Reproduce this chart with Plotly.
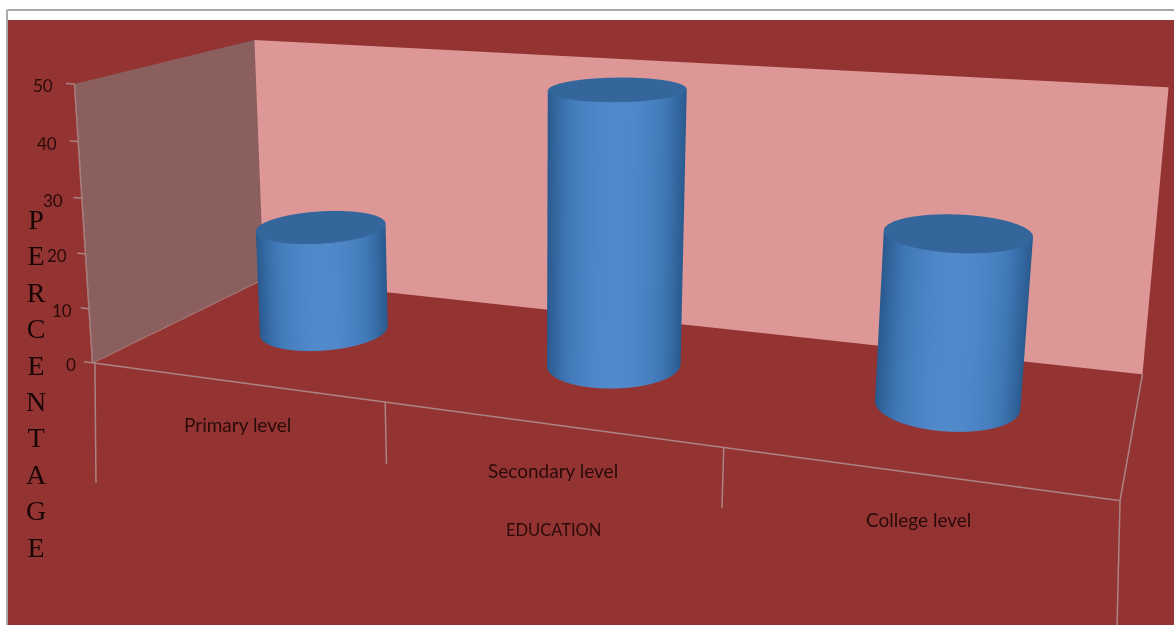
import numpy as np
import plotly.graph_objects as go

categories = ["Primary level", "Secondary level", "College level"]
percentages = [20, 49, 29]
z_ticks = [0, 10, 20, 30, 40, 50]
y_title = "PERCENTAGE"
x_title = "EDUCATION"

# Camera and box proportions of the 3D view
EYE = np.array([0.2006, -1.2321, 0.9878])
CENTER = np.array([-0.0594, 0.0555, 0.0977])
UP = np.array([-0.1062, 0.5508, 0.8278])
BOX_X, BOX_Y, BOX_Z = 2.0, 0.3814, 0.5124
SHEAR_XY, SHEAR_XZ, SHEAR_YZ = 0.2609, -0.0688, 0.6983

XR, YR, ZR = [-2, 5], [-2, 3], [-80, 80]
BG, LINE = "#933432", "#AD8382"
FLAT = dict(ambient=1, diffuse=0, specular=0, roughness=1, fresnel=0)

# Columns sit a little off the exact category middle, towards the back of the floor
COLUMN_NUDGE = [0.003, -0.001, -0.001]
COLUMN_DEPTH = 0.54
RX, RY = 0.2, 0.22


def lean(x, y, z):
    """Oblique slant of the plotting box: heights stay as they are, only x and y shift."""
    x, y, z = np.asarray(x, float), np.asarray(y, float), np.asarray(z, float)
    return x + SHEAR_XY * (y - 0.5) + SHEAR_XZ * z / 50, y + SHEAR_YZ * z / 50, z


def view_x(lx, ly, lz):
    """Horizontal position of a point as the camera sees it, used for the side shading."""
    w = np.stack([BOX_X * (lx - 1.5) / 3, BOX_Y * (ly - 0.5), BOX_Z * lz / 50], axis=-1)
    f = (CENTER - EYE) / np.linalg.norm(CENTER - EYE)
    r = np.cross(f, UP)
    r = r / np.linalg.norm(r)
    rel = w - EYE
    return (rel @ r) / (rel @ f)


fig = go.Figure()


def flat_surface(x, y, z, color):
    lx, ly, lz = lean(x, y, z)
    fig.add_surface(x=lx, y=ly, z=lz, surfacecolor=np.zeros_like(lz), cmin=0, cmax=1,
                    colorscale=[[0, color], [1, color]], showscale=False,
                    lighting=FLAT, hoverinfo="skip")


# Back wall and side wall
U, V = np.meshgrid([0.0, 3.0], [0.0, 50.0])
flat_surface(U, np.ones_like(U), V, "#DE9797")
U, V = np.meshgrid([0.0, 1.0], [0.0, 50.0])
flat_surface(np.zeros_like(U), U, V, "#8B5F5D")

# One cylinder per category, its height taken from the percentage
SIDE = [[0, "#2A5A8E"], [0.5, "#3F77B6"], [1, "#5289CB"]]
theta = np.linspace(0, 2 * np.pi, 181)
for i, v in enumerate(percentages):
    xc = i + 0.5 + COLUMN_NUDGE[i]
    T, Z = np.meshgrid(theta, [0.0, float(v)])
    X = xc + RX * np.cos(T)
    Y = COLUMN_DEPTH + RY * np.sin(T)
    lx, ly, lz = lean(X, Y, Z)
    sx = view_x(lx, ly, lz)
    lo, hi = sx.min(axis=1, keepdims=True), sx.max(axis=1, keepdims=True)
    shade = 1 - (2 * (sx - lo) / (hi - lo) - 1) ** 2
    fig.add_surface(x=lx, y=ly, z=lz, surfacecolor=shade, cmin=0, cmax=1, colorscale=SIDE,
                    showscale=False, lighting=FLAT, hoverinfo="skip")
    R, T2 = np.meshgrid([0.0, 1.0], theta)
    flat_surface(xc + RX * R * np.cos(T2), COLUMN_DEPTH + RY * R * np.sin(T2),
                 np.full_like(R, float(v)), "#34669C")


def seg(x0, y0, z0, x1, y1, z1):
    lx, ly, lz = lean([x0, x1], [y0, y1], [z0, z1])
    fig.add_scatter3d(x=lx, y=ly, z=lz, mode="lines", line=dict(color=LINE, width=3),
                      hoverinfo="skip", showlegend=False)


# Floor edges, height edge, tick marks and category separators
seg(0, 0, 0, 3, 0, 0)
seg(0, 0, 0, 0, 1, 0)
seg(3, 0, 0, 3, 1, 0)
seg(0, 0, 0, 0, 0, 50)
for t in z_ticks:
    seg(0, 0, t, -0.03, 0, t)
seg(0.009, 0, 0, -0.016, 0, -23)
seg(1, 0, 0, 1, 0, -11)
seg(2, 0, 0, 2, 0, -10)
seg(3, 0, 0, 3.05, 0, -50)

INK = "#2B0A0A"
LABEL = dict(family="Lato", size=19, color=INK)
anns = []
tick_shift = [-21, -27, -28, -29, -31, -31]
for t, dx in zip(z_ticks, tick_shift):
    lx, ly, lz = lean(0, 0, t)
    anns.append(dict(x=float(lx), y=float(ly), z=float(lz), text=str(t), showarrow=False,
                     xshift=dx, yshift=-2, font=dict(family="Lato", size=17, color=INK)))
label_shift = [(2, 1), (5, 0), (8, 4)]
for i, name in enumerate(categories):
    lx, ly, lz = lean(i + 0.5, 0, -8)
    anns.append(dict(x=float(lx), y=float(ly), z=float(lz), text=name, showarrow=False,
                     xshift=label_shift[i][0], yshift=label_shift[i][1], font=LABEL))
lx, ly, lz = lean(1.5, 0, -18.2)
anns.append(dict(x=float(lx), y=float(ly), z=float(lz), text=x_title, showarrow=False, xshift=6,
                 font=dict(family="Lato", size=16.5, color=INK)))

axis = dict(visible=False, showspikes=False)
fig.update_layout(
    width=1174, height=625, margin=dict(l=0, r=0, t=0, b=0), paper_bgcolor="white", showlegend=False,
    shapes=[
        dict(type="rect", xref="paper", yref="paper", x0=7 / 1174, x1=1, y0=0, y1=1 - 20 / 625,
             fillcolor=BG, line_width=0, layer="below"),
        dict(type="line", xref="paper", yref="paper", x0=7 / 1174, x1=1, y0=1 - 10 / 625, y1=1 - 10 / 625,
             line=dict(color="#A9A9A9", width=2), layer="below"),
        dict(type="line", xref="paper", yref="paper", x0=7 / 1174, x1=7 / 1174, y0=0, y1=1 - 10 / 625,
             line=dict(color="#A9A9A9", width=2), layer="below"),
    ],
    scene=dict(
        domain=dict(x=[0, 1], y=[0, 1]), bgcolor="rgba(0,0,0,0)",
        xaxis=dict(range=XR, **axis), yaxis=dict(range=YR, **axis), zaxis=dict(range=ZR, **axis),
        aspectmode="manual",
        aspectratio=dict(x=BOX_X * (XR[1] - XR[0]) / 3, y=BOX_Y * (YR[1] - YR[0]), z=BOX_Z * (ZR[1] - ZR[0]) / 50),
        camera=dict(eye=dict(x=EYE[0], y=EYE[1], z=EYE[2]),
                    center=dict(x=CENTER[0], y=CENTER[1], z=CENTER[2]),
                    up=dict(x=UP[0], y=UP[1], z=UP[2]), projection=dict(type="perspective")),
        annotations=anns,
    ),
    annotations=[
        dict(xref="paper", yref="paper", x=36 / 1174, y=1 - 383 / 625, xanchor="center", yanchor="middle",
             text="<br>".join(y_title), showarrow=False,
             font=dict(family="Liberation Serif", size=28, color="#1A0505")),
    ],
)
fig.write_html("out.html")
